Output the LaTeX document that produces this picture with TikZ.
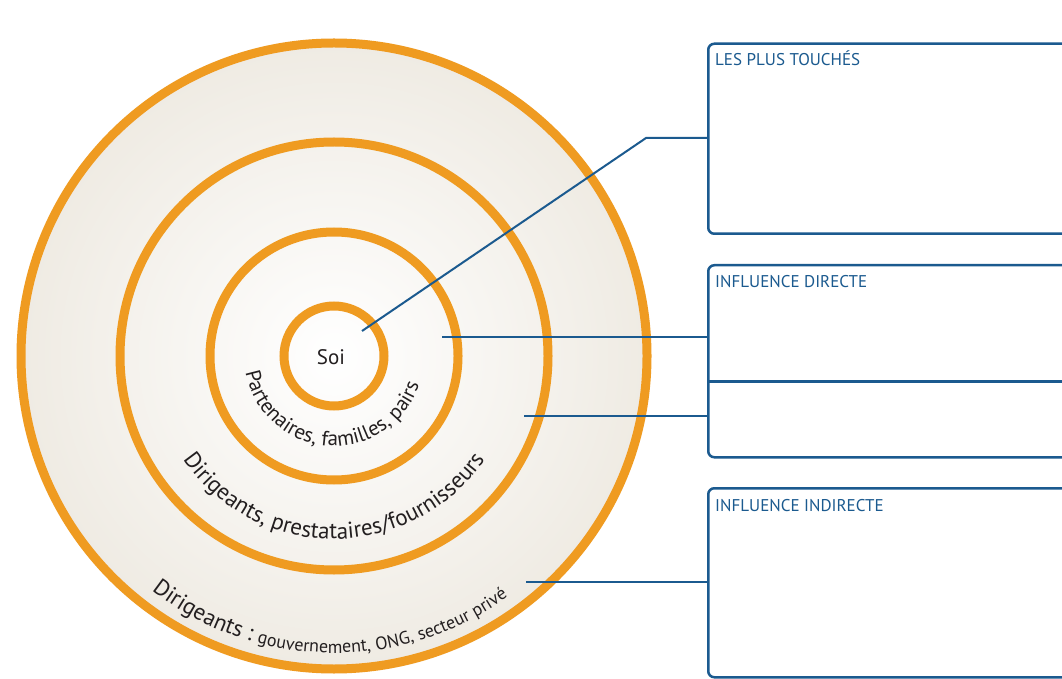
\documentclass[tikz,border=0pt]{standalone}
\usepackage{fontspec}
\setmainfont{PT Sans}
\usetikzlibrary{decorations.text}
\definecolor{ring}{RGB}{239,155,33}
\definecolor{bl}{RGB}{27,90,143}
\definecolor{txt}{RGB}{35,31,32}
\definecolor{beige}{RGB}{239,235,227}
\newcommand\lblbig{\fontsize{21}{21}\selectfont\color{txt}}
\newcommand\lblbigger{\fontsize{23}{23}\selectfont\color{txt}}
\newcommand\lblsmall{\fontsize{18}{18}\selectfont\color{txt}}
\begin{document}
\begin{tikzpicture}[x=1pt,y=1pt,
  ringc/.style={circle, draw=ring, line width=9pt, inner sep=0pt},
  box/.style={draw=bl, line width=2.5pt, rounded corners=6pt, minimum width=373pt, inner sep=0pt, anchor=north west},
  conn/.style={draw=bl, line width=2pt},
  ttl/.style={text=bl, font=\fontsize{17}{17}\selectfont, anchor=base west, inner sep=0pt},
  arctext/.style={decorate, decoration={text along path, text align=center, text={#1}}}
]
\useasboundingbox (0,0) rectangle (1062,678);
\clip (0,0) rectangle (1062,678);
\fill[white] (0,0) rectangle (1062,678);
\coordinate (C) at (334,322);
\shade[inner color=white, outer color=beige] (C) circle (313);
\node[ringc, minimum size=626pt] (r1) at (C) {};
\node[ringc, minimum size=428pt] (r2) at (C) {};
\node[ringc, minimum size=248pt] (r3) at (C) {};
\node[ringc, minimum size=100pt] (r4) at (C) {};
\node[font=\lblbig, inner sep=0pt] (soi) at (331,321) {Soi};
\path[arctext={|\lblbig|Partenaires, familles, pairs}] ([shift={(C)}]176:90) arc[start angle=176, end angle=356, radius=90];
\path[arctext={|\lblbigger|Dirigeants, prestataires/fournisseurs}] ([shift={(C)}]180:183) arc[start angle=180, end angle=360, radius=183];
\path[arctext={|\lblbigger|Dirigeants : |\lblsmall|gouvernement, ONG, secteur privé}] ([shift={(C)}]179:297) arc[start angle=179, end angle=359, radius=297];
% boxes
\node[box, minimum height=190pt] (b1) at (707,635.5) {};
\node[box, minimum height=192pt] (b2) at (707,414) {};
\node[box, minimum height=189pt] (b3) at (707,191) {};
\coordinate (d2) at (707,296.5);
\draw[bl, line width=2.5pt] (d2 -| b2.west) -- (d2 -| b2.east);
\node[ttl] (t1) at ([shift={(8,-23.5)}]b1.north west) {LES PLUS TOUCHÉS};
\node[ttl] (t2) at ([shift={(8,-23.5)}]b2.north west) {INFLUENCE DIRECTE};
\node[ttl] (t3) at ([shift={(8,-24.5)}]b3.north west) {INFLUENCE INDIRECTE};
% connectors
\coordinate (s1) at (362,347);
\coordinate (k1) at (646,540);
\coordinate (s2) at (442,341);
\coordinate (s3) at (524,262);
\coordinate (s4) at (526,96);
\draw[conn] (s1) -- (k1) -- (k1 -| b1.west);
\draw[conn] (s2) -- (s2 -| b2.west);
\draw[conn] (s3) -- (s3 -| b2.west);
\draw[conn] (s4) -- (s4 -| b3.west);
\end{tikzpicture}
\end{document}
